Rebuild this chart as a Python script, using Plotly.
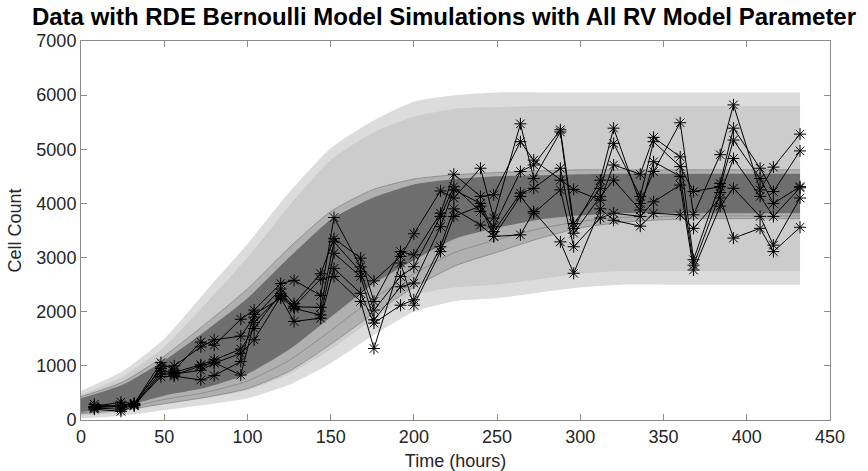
import plotly.graph_objects as go

# ---------------- data ----------------
time_h = [8, 24, 32, 48, 56, 72, 80, 96, 104, 120, 128, 144, 152, 168, 176, 192, 200, 216,
          224, 240, 248, 264, 272, 288, 296, 312, 320, 336, 344, 360, 368, 384, 392, 408, 416, 432]

rep1 = [250, 330, 300, 1060, 920, 1440, 1380, 1860, 2030, 2520, 2580, 2300, 3740, 2830, 2570, 3020, 3440, 4230,
        4100, 4650, 3730, 5470, 4460, 5320, 3540, 4430, 5390, 4000, 4590, 5490, 3790, 4900, 5820, 4250, 4670, 5280]
rep2 = [220, 200, 280, 980, 1000, 1350, 1480, 1550, 1900, 2420, 2150, 2700, 3350, 2990, 2190, 3110, 3050, 3820,
        4540, 4130, 4160, 5140, 4800, 4430, 4260, 4060, 4710, 4540, 5220, 4860, 2960, 4370, 5390, 4650, 4220, 4970]
rep3 = [290, 240, 270, 900, 880, 1020, 1110, 1310, 1690, 2340, 2090, 2080, 3290, 2740, 2030, 2650, 2830, 3760,
        4310, 3850, 3570, 4590, 4710, 5360, 3630, 4280, 5110, 4130, 5140, 4680, 4220, 4310, 5170, 4460, 4000, 4310]
rep4 = [200, 160, 260, 850, 850, 920, 1050, 1230, 1480, 2280, 2060, 1940, 3080, 2650, 1850, 2460, 2530, 3570,
        4250, 4000, 3480, 4190, 4280, 4650, 3450, 4130, 4430, 3880, 4770, 4500, 2860, 4200, 4830, 4130, 3760, 4290]
rep5 = [240, 280, 290, 800, 810, 740, 820, 1080, 1950, 2250, 1820, 1880, 2800, 2340, 1790, 2120, 2220, 3200,
        3900, 3600, 3390, 4130, 3820, 4250, 3200, 3730, 3820, 3760, 4030, 4340, 2770, 3950, 4280, 3760, 3230, 4100]
rep6 = [230, 250, 310, 950, 830, 1000, 1060, 830, 1800, 2300, 2100, 2600, 2650, 2190, 1320, 2900, 2120, 3110,
        3760, 3950, 3390, 3420, 3850, 3290, 2710, 3900, 3690, 3580, 3820, 3790, 3540, 4100, 3360, 3540, 3110, 3560]
replicates = [rep1, rep2, rep3, rep4, rep5, rep6]

# simulation envelopes
band_t = [0, 25, 50, 75, 100, 125, 150, 175, 200, 225, 250, 275, 300, 325, 350, 375, 400, 432]
noisy_spike_hi = [540, 900, 1500, 2380, 3250, 4200, 5020, 5520, 5880, 6000, 6050, 6050, 6050, 6050, 6050, 6050, 6050, 6050]
noisy_hi = [470, 800, 1350, 2150, 3000, 3950, 4800, 5300, 5600, 5750, 5780, 5800, 5800, 5800, 5800, 5800, 5800, 5800]
noisy_lo = [80, 150, 300, 400, 550, 850, 1300, 1850, 2300, 2450, 2500, 2600, 2700, 2750, 2750, 2750, 2750, 2750]
noisy_spike_lo = [30, 80, 180, 280, 400, 650, 1050, 1550, 2000, 2200, 2250, 2350, 2450, 2500, 2500, 2500, 2500, 2500]
smooth_edge_hi = [430, 700, 1180, 1780, 2420, 3180, 3850, 4250, 4450, 4530, 4570, 4600, 4620, 4620, 4620, 4620, 4620, 4620]
smooth_hi = [400, 650, 1100, 1650, 2250, 3000, 3700, 4100, 4350, 4450, 4500, 4520, 4540, 4550, 4550, 4550, 4550, 4550]
smooth_lo = [150, 250, 450, 600, 850, 1300, 1900, 2500, 2950, 3350, 3550, 3700, 3780, 3820, 3820, 3820, 3820, 3820]
smooth_edge_lo = [120, 180, 300, 420, 580, 900, 1400, 1950, 2450, 2850, 3100, 3350, 3550, 3650, 3700, 3720, 3720, 3720]
smooth_mid_lo = [135, 215, 380, 510, 720, 1100, 1650, 2230, 2700, 3100, 3330, 3530, 3670, 3740, 3760, 3770, 3770, 3770]

x_ticks = [0, 50, 100, 150, 200, 250, 300, 350, 400, 450]
y_ticks = [0, 1000, 2000, 3000, 4000, 5000, 6000, 7000]

fig = go.Figure()
SPL = dict(shape="spline", smoothing=0.6)


def band(upper, lower, color):
    fig.add_trace(go.Scatter(x=band_t, y=lower, mode="lines", line=dict(width=0, color=color, **SPL),
                             hoverinfo="skip", showlegend=False))
    fig.add_trace(go.Scatter(x=band_t, y=upper, mode="lines", fill="tonexty", fillcolor=color,
                             line=dict(width=0, color=color, **SPL), hoverinfo="skip", showlegend=False))


band(noisy_spike_hi, noisy_spike_lo, "#dcdcdc")
band(noisy_hi, noisy_lo, "#cccccc")
band(smooth_edge_hi, smooth_edge_lo, "#b0b0b0")
band(smooth_hi, smooth_lo, "#6e6e6e")

for edge in (smooth_edge_hi, smooth_edge_lo, smooth_mid_lo):
    fig.add_trace(go.Scatter(x=band_t, y=edge, mode="lines",
                             line=dict(width=0.8, color="#858585", **SPL),
                             hoverinfo="skip", showlegend=False))

for rep in replicates:
    fig.add_trace(go.Scatter(
        x=time_h, y=rep, mode="lines+markers",
        line=dict(color="black", width=1),
        marker=dict(symbol="asterisk-open", size=10, color="black", line=dict(width=1, color="black")),
        showlegend=False))

FONT = "Liberation Sans, Arial"
axis_common = dict(showgrid=False, zeroline=False, showline=True, linecolor="#8c8c8c", linewidth=1,
                   mirror="ticks", ticks="inside", ticklen=6, tickcolor="#8c8c8c", automargin=False,
                   tickfont=dict(family=FONT, size=18, color="#262626"))

fig.update_layout(
    width=868, height=471,
    margin=dict(l=81, r=38, t=41, b=51),
    paper_bgcolor="white", plot_bgcolor="white",
    title=dict(text="<b>Data with RDE Bernoulli Model Simulations with All RV Model Parameter</b>",
               font=dict(family=FONT, size=24, color="black"),
               x=444 / 868, xanchor="center", xref="container", y=1 - 17 / 471, yanchor="middle", yref="container"),
    xaxis=dict(range=[0, 450], tickvals=x_ticks,
               title=dict(text="Time (hours)", font=dict(family=FONT, size=18, color="#262626"), standoff=8),
               **axis_common),
    yaxis=dict(range=[0, 7000], tickvals=y_ticks,
               title=dict(text="Cell Count", font=dict(family=FONT, size=18, color="#262626"), standoff=10),
               **axis_common),
)

fig.write_html("out.html")
